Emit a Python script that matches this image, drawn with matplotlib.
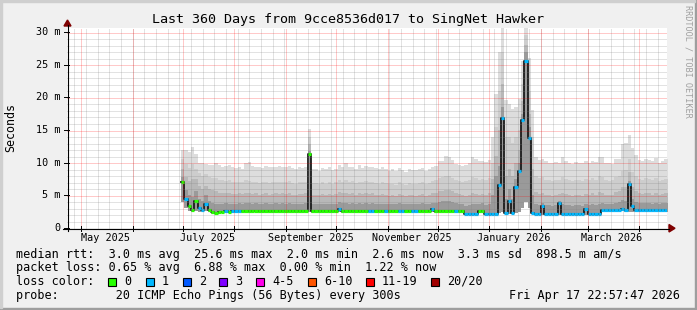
import matplotlib
matplotlib.use('Agg')
import matplotlib.pyplot as plt
import matplotlib.dates as mdates
from matplotlib.patches import Polygon, Rectangle
from matplotlib.lines import Line2D
from matplotlib.transforms import IdentityTransform
from datetime import datetime, timedelta
import numpy as np

W, H = 697, 310
FONT = 'DejaVu Sans Mono'

# ---------------- data ----------------
graph_end = datetime(2026, 4, 17, 22, 57, 47)
graph_start = graph_end - timedelta(days=360)
data_start = datetime(2025, 6, 30, 8, 0)
bin_days = 2

median_ms = [
    7.0, 4.5, 3.3, 2.8, 4.2, 3.0, 2.8, 3.7, 2.7, 2.4,
    2.3, 2.4, 2.5, 2.6, 2.5, 2.55, 2.55, 2.55, 2.55, 2.55,
    2.55, 2.55, 2.6, 2.55, 2.55, 2.55, 2.55, 2.55, 2.55, 2.55,
    2.55, 2.55, 2.55, 2.55, 2.55, 2.55, 2.55, 2.55, 11.3, 2.55,
    2.55, 2.55, 2.55, 2.55, 2.55, 2.55, 2.55, 2.9, 2.55, 2.55,
    2.55, 2.55, 2.55, 2.55, 2.55, 2.55, 2.55, 2.55, 2.55, 2.55,
    2.55, 2.55, 2.55, 2.55, 2.55, 2.55, 2.55, 2.55, 2.55, 2.55,
    2.55, 2.55, 2.55, 2.55, 2.55, 2.9, 2.55, 2.55, 2.55, 2.55,
    2.55, 2.55, 2.55, 2.55, 2.55, 2.1, 2.1, 2.1, 2.1, 2.55,
    2.55, 2.1, 2.1, 2.1, 2.2, 6.6, 16.8, 2.3, 4.2, 2.3,
    6.2, 8.8, 16.5, 25.6, 13.8, 2.3, 2.2, 2.1, 3.4, 2.1,
    2.1, 2.1, 2.1, 3.8, 2.1, 2.1, 2.1, 2.1, 2.1, 2.1,
    2.1, 2.9, 2.1, 2.1, 2.1, 2.1, 2.7, 2.7, 2.7, 2.7,
    2.7, 2.7, 2.9, 2.7, 6.7, 3.4, 2.7, 2.7, 2.7, 2.7,
    2.7, 2.7, 2.7, 2.7, 2.7, 2.7,
]

loss_bucket = [
    0, 1, 0, 0, 0, 1, 1, 1, 0, 0,
    0, 0, 0, 1, 0, 1, 1, 1, 0, 0,
    0, 0, 0, 0, 0, 0, 0, 0, 0, 0,
    0, 0, 0, 0, 0, 0, 0, 0, 0, 0,
    0, 0, 0, 0, 0, 0, 0, 1, 0, 0,
    0, 0, 0, 0, 0, 0, 1, 1, 0, 0,
    0, 1, 0, 0, 0, 1, 1, 0, 0, 1,
    1, 0, 0, 0, 0, 1, 0, 0, 0, 0,
    0, 0, 1, 0, 0, 1, 1, 1, 1, 0,
    0, 1, 1, 1, 1, 1, 1, 1, 1, 1,
    1, 1, 1, 1, 1, 1, 1, 1, 1, 1,
    1, 1, 1, 1, 1, 1, 1, 1, 1, 1,
    1, 1, 1, 1, 1, 1, 1, 1, 1, 1,
    1, 1, 1, 1, 1, 1, 1, 1, 1, 1,
    1, 1, 1, 1, 1, 1,
]

smoke_max = [
    12.0, 11.9, 11.6, 12.4, 11.4, 10.0, 9.9, 9.8, 9.7, 9.6,
    9.9, 9.6, 9.4, 9.5, 9.6, 9.3, 9.2, 9.3, 9.1, 10.0,
    10.1, 9.5, 9.3, 9.4, 9.2, 9.5, 9.3, 9.4, 9.3, 9.5,
    9.4, 9.3, 9.5, 9.2, 9.1, 9.4, 9.2, 9.3, 15.2, 9.0,
    9.1, 8.8, 9.2, 9.0, 9.3, 8.9, 9.1, 9.6, 9.4, 10.0,
    9.3, 9.4, 9.1, 9.6, 9.2, 9.5, 9.3, 9.4, 9.2, 9.0,
    9.3, 9.1, 8.8, 9.0, 8.7, 9.2, 8.9, 8.6, 9.1, 8.9,
    8.9, 9.0, 9.2, 8.8, 9.1, 9.4, 9.5, 10.2, 10.3, 11.0,
    10.8, 10.4, 9.8, 9.6, 9.5, 9.7, 10.0, 10.9, 10.6, 10.2,
    10.3, 10.1, 10.4, 14.0, 20.5, 27.0, 31.0, 19.6, 19.0, 18.2,
    18.5, 19.8, 25.5, 31.0, 26.0, 18.0, 10.8, 10.4, 10.6, 10.2,
    10.0, 9.9, 10.1, 9.9, 10.9, 10.2, 10.0, 9.8, 10.1, 10.0,
    9.9, 10.2, 10.0, 10.3, 10.1, 10.9, 10.8, 10.0, 9.9, 9.8,
    10.5, 10.6, 12.9, 13.0, 14.2, 12.2, 11.2, 10.4, 10.3, 10.6,
    10.4, 10.2, 10.7, 10.0, 10.3, 10.5,
]

smoke_p90 = [
    10.5, 9.8, 9.2, 9.8, 9.0, 8.4, 8.0, 8.3, 7.8, 7.6,
    7.6, 7.4, 7.3, 7.2, 7.3, 7.1, 7.0, 7.1, 7.0, 7.3,
    7.2, 7.0, 7.1, 6.9, 7.0, 7.1, 6.9, 7.0, 7.1, 7.0,
    7.1, 7.0, 7.2, 6.9, 6.8, 7.0, 7.0, 7.1, 14.0, 6.9,
    6.9, 6.8, 7.0, 6.8, 7.0, 6.8, 7.0, 7.4, 7.1, 7.3,
    7.0, 7.2, 6.9, 7.1, 7.0, 7.2, 7.0, 7.1, 6.9, 6.8,
    7.0, 6.9, 6.7, 6.8, 6.6, 7.0, 6.8, 6.6, 6.9, 6.8,
    6.7, 6.9, 7.0, 6.7, 6.9, 7.2, 7.3, 7.6, 7.8, 8.0,
    7.9, 7.7, 7.3, 7.2, 7.1, 7.2, 7.4, 7.8, 7.6, 7.4,
    7.5, 7.3, 7.6, 10.0, 15.5, 21.0, 27.0, 14.0, 14.0, 13.0,
    14.0, 15.0, 22.0, 29.5, 21.0, 14.0, 8.0, 7.6, 7.8, 7.4,
    7.3, 7.2, 7.4, 7.3, 7.8, 7.5, 7.3, 7.2, 7.4, 7.3,
    7.2, 7.5, 7.3, 7.6, 7.4, 7.9, 7.8, 7.3, 7.2, 7.3,
    7.8, 8.0, 8.8, 8.9, 10.5, 8.6, 7.9, 7.5, 7.4, 7.6,
    7.5, 7.3, 7.6, 7.2, 7.4, 7.5,
]

smoke_p75 = [
    9.0, 7.8, 7.2, 7.5, 7.5, 6.5, 6.0, 6.5, 6.0, 5.8,
    5.6, 5.4, 5.3, 5.3, 5.4, 5.2, 5.2, 5.3, 5.2, 5.4,
    5.3, 5.2, 5.3, 5.1, 5.2, 5.3, 5.1, 5.2, 5.3, 5.2,
    5.3, 5.2, 5.4, 5.1, 5.0, 5.2, 5.2, 5.3, 12.8, 5.1,
    5.1, 5.0, 5.2, 5.0, 5.2, 5.0, 5.2, 5.5, 5.3, 5.4,
    5.2, 5.3, 5.1, 5.3, 5.2, 5.4, 5.2, 5.3, 5.1, 5.0,
    5.2, 5.1, 4.9, 5.0, 4.9, 5.2, 5.0, 4.9, 5.1, 5.0,
    4.9, 5.1, 5.2, 4.9, 5.1, 5.3, 5.4, 5.6, 5.7, 5.8,
    5.8, 5.6, 5.3, 5.2, 5.1, 4.9, 5.1, 5.4, 5.2, 5.1,
    5.2, 5.0, 5.3, 7.5, 11.0, 15.0, 22.0, 8.0, 9.0, 8.0,
    10.0, 12.0, 19.5, 28.0, 17.5, 9.0, 5.5, 5.2, 5.4, 5.1,
    5.0, 4.9, 5.1, 5.2, 5.4, 5.2, 5.0, 4.9, 5.1, 5.0,
    4.9, 5.2, 5.0, 5.3, 5.1, 5.5, 5.4, 5.1, 5.0, 5.1,
    5.5, 5.7, 6.2, 6.3, 8.5, 6.2, 5.6, 5.3, 5.2, 5.4,
    5.3, 5.1, 5.4, 5.0, 5.2, 5.3,
]

smoke_p60 = [
    7.8, 5.8, 5.0, 4.8, 5.6, 4.4, 4.1, 5.0, 4.1, 3.8,
    3.6, 3.6, 3.7, 3.8, 3.7, 3.7, 3.7, 3.8, 3.7, 3.8,
    3.8, 3.7, 3.8, 3.7, 3.7, 3.8, 3.7, 3.7, 3.8, 3.7,
    3.8, 3.7, 3.8, 3.7, 3.6, 3.7, 3.7, 3.8, 11.8, 3.7,
    3.7, 3.6, 3.7, 3.6, 3.7, 3.6, 3.7, 4.0, 3.8, 3.9,
    3.7, 3.8, 3.7, 3.8, 3.7, 3.9, 3.7, 3.8, 3.7, 3.6,
    3.7, 3.7, 3.6, 3.6, 3.6, 3.8, 3.7, 3.6, 3.7, 3.6,
    3.6, 3.7, 3.8, 3.6, 3.7, 3.9, 3.9, 4.0, 4.1, 4.1,
    4.1, 4.0, 3.8, 3.7, 3.7, 3.4, 3.5, 3.7, 3.6, 3.7,
    3.8, 3.5, 3.7, 5.0, 8.0, 9.5, 18.5, 4.5, 6.0, 4.5,
    7.5, 10.0, 17.5, 27.0, 15.5, 5.0, 3.6, 3.5, 3.9, 3.5,
    3.5, 3.4, 3.5, 4.2, 3.6, 3.5, 3.5, 3.4, 3.5, 3.5,
    3.4, 3.6, 3.5, 3.6, 3.5, 3.7, 3.9, 3.7, 3.6, 3.7,
    3.9, 4.0, 4.3, 4.2, 7.2, 4.4, 4.0, 3.8, 3.8, 3.9,
    3.8, 3.7, 3.9, 3.7, 3.8, 3.8,
]

smoke_min = [
    4.0, 3.0, 2.6, 2.4, 2.6, 2.4, 2.4, 2.6, 2.4, 2.2,
    2.1, 2.2, 2.3, 2.4, 2.3, 2.35, 2.35, 2.35, 2.35, 2.35,
    2.35, 2.35, 2.4, 2.35, 2.35, 2.35, 2.35, 2.35, 2.35, 2.35,
    2.35, 2.35, 2.35, 2.35, 2.35, 2.35, 2.35, 2.35, 2.5, 2.35,
    2.35, 2.35, 2.35, 2.35, 2.35, 2.35, 2.35, 2.4, 2.35, 2.35,
    2.35, 2.35, 2.35, 2.35, 2.35, 2.35, 2.35, 2.35, 2.35, 2.35,
    2.35, 2.35, 2.35, 2.35, 2.35, 2.35, 2.35, 2.35, 2.35, 2.35,
    2.35, 2.35, 2.35, 2.35, 2.35, 2.4, 2.35, 2.35, 2.35, 2.35,
    2.35, 2.35, 2.35, 2.35, 2.35, 1.95, 1.95, 1.95, 1.95, 2.35,
    2.35, 1.95, 1.95, 1.95, 2.0, 2.3, 2.4, 2.1, 2.2, 2.1,
    2.3, 2.5, 3.0, 4.0, 3.0, 2.1, 2.0, 1.95, 2.0, 1.95,
    1.95, 1.95, 1.95, 1.95, 1.95, 1.95, 1.95, 1.95, 1.95, 1.95,
    1.95, 2.0, 1.95, 1.95, 1.95, 1.95, 2.5, 2.5, 2.5, 2.5,
    2.5, 2.5, 2.55, 2.5, 2.5, 2.5, 2.5, 2.5, 2.5, 2.5,
    2.5, 2.5, 2.5, 2.5, 2.5, 2.5,
]

loss_labels = ['0', '1', '2', '3', '4-5', '6-10', '11-19', '20/20']
loss_colors = ['#26ff00', '#00b8ff', '#0059ff', '#7e00ff',
               '#ff00ea', '#ff5500', '#ff0000', '#a10000']

title = 'Last 360 Days from 9cce8536d017 to SingNet Hawker'
y_label = 'Seconds'
y_ticks = [0, 5, 10, 15, 20, 25, 30]
y_minor = [1, 2, 3, 4, 6, 7, 8, 9, 11, 12, 13, 14, 16, 17, 18, 19,
           21, 22, 23, 24, 26, 27, 28, 29]
legend_rtt = 'median rtt:  3.0 ms avg  25.6 ms max  2.0 ms min  2.6 ms now  3.3 ms sd  898.5 m am/s'
legend_loss = 'packet loss: 0.65 % avg  6.88 % max  0.00 % min  1.22 % now'
legend_probe = 'probe:        20 ICMP Echo Pings (56 Bytes) every 300s'
stamp = 'Fri Apr 17 22:57:47 2026'
watermark = 'RRDTOOL / TOBI OETIKER'

# ---------------- layout helpers ----------------
def fx(x):
    return x / W

def fy(y):
    return 1 - y / H

PL, PR, PT, PB = 67, 667, 28, 228   # plot area in pixels
PW, PH = PR - PL, PB - PT
YMAX = PH / 6.533                   # ms at top edge

fig = plt.figure(figsize=(W / 100, H / 100), dpi=100, facecolor='#F0F0F0')
ax = fig.add_axes([fx(PL), fy(PB), PW / W, PH / H])
ax.set_facecolor('white')
for s in ax.spines.values():
    s.set_visible(False)

x0 = mdates.date2num(graph_start)
x1 = mdates.date2num(graph_end)
ax.set_xlim(x0, x1)
ax.set_ylim(0, YMAX)
ax.set_xticks([])
ax.set_yticks([])

n = len(median_ms)
edges = mdates.date2num([data_start + timedelta(days=bin_days * k) for k in range(n + 1)])

def ext(a):
    a = np.asarray(a, dtype=float)
    return np.append(a, a[-1])

lo = ext(smoke_min)
bands = [(smoke_max, '#dddddd'), (smoke_p90, '#cdcdcd'),
         (smoke_p75, '#b8b8b8'), (smoke_p60, '#9a9a9a')]
for arr, col in bands:
    ax.fill_between(edges, lo, ext(arr), step='post', color=col,
                    linewidth=0, zorder=1)

# median: thin dark step line + loss-coloured segments
ax.step(edges, ext(median_ms), where='post', color='#1a1a1a', lw=1.3, zorder=3)
for k in range(n):
    ax.hlines(median_ms[k], edges[k], edges[k + 1], colors=loss_colors[loss_bucket[k]],
              lw=2.3, zorder=4, capstyle='butt')

# ---------------- dotted grid, pixel-aligned (above data, like rrdtool) ----------------
months = []
m = datetime(2025, 5, 1)
while m < graph_end:
    months.append(m)
    m = datetime(m.year + (m.month // 12), m.month % 12 + 1, 1)
weeks = []
d = datetime(2025, 4, 27)
while d < graph_end:
    weeks.append(d)
    d += timedelta(days=7)

def xpix(t):
    # pixel column (from the left of the figure) of a date, via the axes transform
    disp = ax.transData.transform((mdates.date2num(t), 0))[0]
    return int(np.floor(disp)) + 0.5

def ypix(v):
    disp = ax.transData.transform((x0, v))[1]
    return int(np.floor(disp)) + 0.5

ident = IdentityTransform()
def dotted(xa, ya, xb, yb, color, alpha, z):
    fig.add_artist(Line2D([xa, xb], [ya, yb], color=color, alpha=alpha, lw=0.72,
                          ls=(0, (1, 1)), transform=ident, zorder=z,
                          solid_capstyle='butt', dash_capstyle='butt'))

fig_left, fig_right = PL, PR
fig_bottom, fig_top = H - PB, H - PT
for v in y_minor:
    yy = ypix(v)
    dotted(fig_left, yy, fig_right, yy, '#808080', 0.45, 5)
for t in weeks:
    xx = xpix(t)
    if fig_left < xx < fig_right:
        dotted(xx, fig_bottom, xx, fig_top, '#808080', 0.45, 5)
for v in y_ticks[1:]:
    yy = ypix(v)
    dotted(fig_left, yy, fig_right, yy, '#ff0000', 0.42, 6)
for t in months:
    xx = xpix(t)
    if fig_left < xx < fig_right:
        dotted(xx, fig_bottom, xx, fig_top, '#ff0000', 0.42, 6)

# ---------------- axes lines & arrows (pixel space) ----------------
def pxline(xa, ya, xb, yb, color, lw=0.8):
    fig.add_artist(Line2D([fx(xa), fx(xb)], [fy(ya), fy(yb)], color=color, lw=lw,
                          transform=fig.transFigure, zorder=7))

pxline(63, PB + 0.5, 669, PB + 0.5, '#000000')
pxline(PL + 0.5, PB + 3, PL + 0.5, 25, '#000000')
arrow_col = '#7f0000'
fig.add_artist(Polygon([(fx(669), fy(224.5)), (fx(669), fy(232)), (fx(675), fy(228.3))],
                       closed=True, color=arrow_col, transform=fig.transFigure))
fig.add_artist(Polygon([(fx(64), fy(26)), (fx(71), fy(26)), (fx(67.5), fy(20))],
                       closed=True, color=arrow_col, transform=fig.transFigure))

# ticks
for m in months:
    xp = xpix(m)
    fig.add_artist(Line2D([xp, xp], [H - PB - 3, H - PB + 2], color='#000000', lw=0.7,
                          transform=ident, zorder=7))
for v in y_ticks:
    yp = PB - v * 6.533
    pxline(PL - 3, yp, PL + 2, yp, '#000000', lw=0.7)

# ---------------- text ----------------
fig.text(0.5, fy(19), title, ha='center', va='center', fontsize=9.6,
         family=FONT, color='#000000')
fig.text(fx(11), fy(128), y_label, rotation=90, ha='center', va='center',
         fontsize=8.4, family=FONT)
for v in y_ticks:
    lab = '0' if v == 0 else f'{v} m'
    fig.text(fx(60), fy(PB - v * 6.533), lab, ha='right', va='center',
             fontsize=7.3, family=FONT)
for m in months[::2]:
    mid = m + timedelta(days=15)
    xp = PL + (mdates.date2num(mid) - x0) / (x1 - x0) * PW
    fig.text(fx(xp), fy(238), mid.strftime('%B %Y'), ha='center', va='center',
             fontsize=7.3, family=FONT)

LFS = 8.5
fig.text(fx(16), fy(254.5), legend_rtt, ha='left', va='center', fontsize=LFS, family=FONT)
fig.text(fx(16), fy(268), legend_loss, ha='left', va='center', fontsize=LFS, family=FONT)
fig.text(fx(16), fy(281.5), 'loss color:', ha='left', va='center', fontsize=LFS, family=FONT)
box_x = [108, 146, 183, 219, 256, 308, 366, 431]
for bx, lab, col in zip(box_x, loss_labels, loss_colors):
    fig.add_artist(Rectangle((fx(bx), fy(286)), 8 / W, 8 / H, facecolor=col,
                             edgecolor='#000000', lw=0.8, transform=fig.transFigure))
    fig.text(fx(bx + 16), fy(281.5), lab, ha='left', va='center', fontsize=LFS, family=FONT)
fig.text(fx(16), fy(295.5), legend_probe, ha='left', va='center', fontsize=LFS, family=FONT)
fig.text(fx(680), fy(295.5), stamp, ha='right', va='center', fontsize=LFS, family=FONT)

fig.text(fx(688), fy(5), watermark, rotation=270, ha='center', va='top',
         fontsize=6.1, family=FONT, color='#a0a0a0')

# 3D frame
fig.add_artist(Rectangle((0, 0), 1, 2 / H, color='#9e9e9e', transform=fig.transFigure))
fig.add_artist(Rectangle((1 - 2 / W, 0), 2 / W, 1, color='#9e9e9e', transform=fig.transFigure))
fig.add_artist(Rectangle((0, 1 - 2 / H), 1 - 2 / W, 2 / H, color='#cfcfcf', transform=fig.transFigure))
fig.add_artist(Rectangle((0, 2 / H), 2 / W, 1 - 2 / H, color='#cfcfcf', transform=fig.transFigure))

fig.savefig('out.png', dpi=100, facecolor=fig.get_facecolor())
